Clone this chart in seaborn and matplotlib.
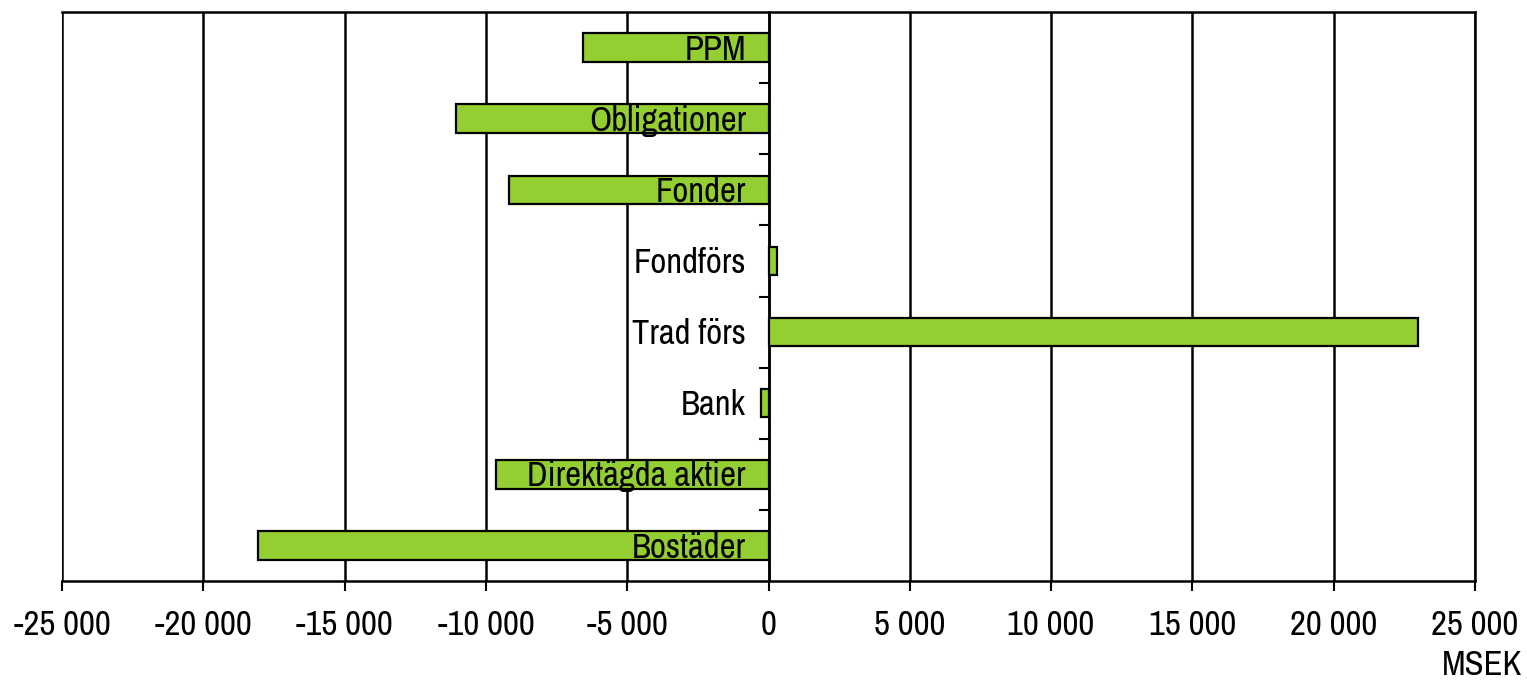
import pandas as pd
import numpy as np
import matplotlib
matplotlib.use("Agg")
import matplotlib.pyplot as plt
import matplotlib.ticker as mticker
from matplotlib import font_manager as fm
import seaborn as sns

# Data (MSEK), top to bottom as in the chart
categories = ['PPM', 'Obligationer', 'Fonder', 'Fondförs', 'Trad förs',
              'Bank', 'Direktägda aktier', 'Bostäder']
values = [-6550, -11050, -9200, 300, 23000, -250, -9650, -18050]
x_ticks = list(range(-25000, 25001, 5000))

df = pd.DataFrame({'kategori': categories, 'msek': values})

sns.set_theme(style="white")
plt.rcParams['font.family'] = ['Liberation Sans', 'DejaVu Sans']
plt.rcParams['text.color'] = 'black'


# look for a narrow / condensed sans face, otherwise Liberation Sans
def pick_font():
    found = []
    for f in fm.fontManager.ttflist:
        nm = f.name
        if f.style != 'normal' or f.weight not in (400, 'normal', 'regular', 'book'):
            continue
        if 'Mono' in nm or 'Serif' in nm or 'CJK' in nm:
            continue
        if 'Narrow' in nm:
            found.append((0, f))
        elif f.stretch == 'condensed' or 'Condensed' in nm:
            found.append((1, f))
        elif f.stretch == 'semi-condensed':
            found.append((2, f))
    if found:
        found.sort(key=lambda t: t[0])
        return fm.FontProperties(fname=found[0][1].fname), found[0][0]
    return fm.FontProperties(family=['Liberation Sans', 'DejaVu Sans']), 3


fp, kind = pick_font()
fsize = 25 if kind < 3 else 21

fig = plt.figure(figsize=(15.27, 6.82), dpi=100)
ax = fig.add_axes([62 / 1527, 1 - 581 / 682, (1475 - 62) / 1527, (581 - 12) / 682])

sns.barplot(data=df, x='msek', y='kategori', orient='h', color='#93CE32',
            edgecolor='black', linewidth=1.6, width=0.4, saturation=1, ax=ax, zorder=3)

ax.set_xlim(-25000, 25000)
ax.set_ylim(len(categories) - 0.5, -0.5)
ax.set_xticks(x_ticks)
ax.xaxis.set_major_formatter(mticker.FuncFormatter(lambda v, p: f"{int(v):,}".replace(',', ' ')))
ax.grid(axis='x', color='black', linewidth=1.8, zorder=0)
ax.set_axisbelow(True)

# y axis drawn at zero with ticks between categories
ax.spines['left'].set_position(('data', 0))
for s in ['left', 'bottom', 'top', 'right']:
    ax.spines[s].set_color('black')
    ax.spines[s].set_linewidth(1.8)
ax.set_yticks(np.arange(0.5, len(categories) - 1, 1.0))
ax.set_yticklabels([])
ax.tick_params(axis='y', which='major', direction='out', length=7, width=1.5, color='black', left=True)
ax.tick_params(axis='x', direction='out', length=7, width=1.5, color='black', bottom=True,
               labelcolor='black', pad=13)
for lab in ax.get_xticklabels():
    lab.set_fontproperties(fp)
    lab.set_fontsize(fsize)
ax.set_xlabel('')
ax.set_ylabel('')

for i, name in enumerate(categories):
    ax.text(-800, i + 0.03, name, ha='right', va='center', fontproperties=fp,
            fontsize=fsize, color='black', zorder=5)

fig.text(1522 / 1527, 1 - 665 / 682, 'MSEK', ha='right', va='center',
         fontproperties=fp, fontsize=fsize, color='black')

fig.savefig('out.png', dpi=100)
